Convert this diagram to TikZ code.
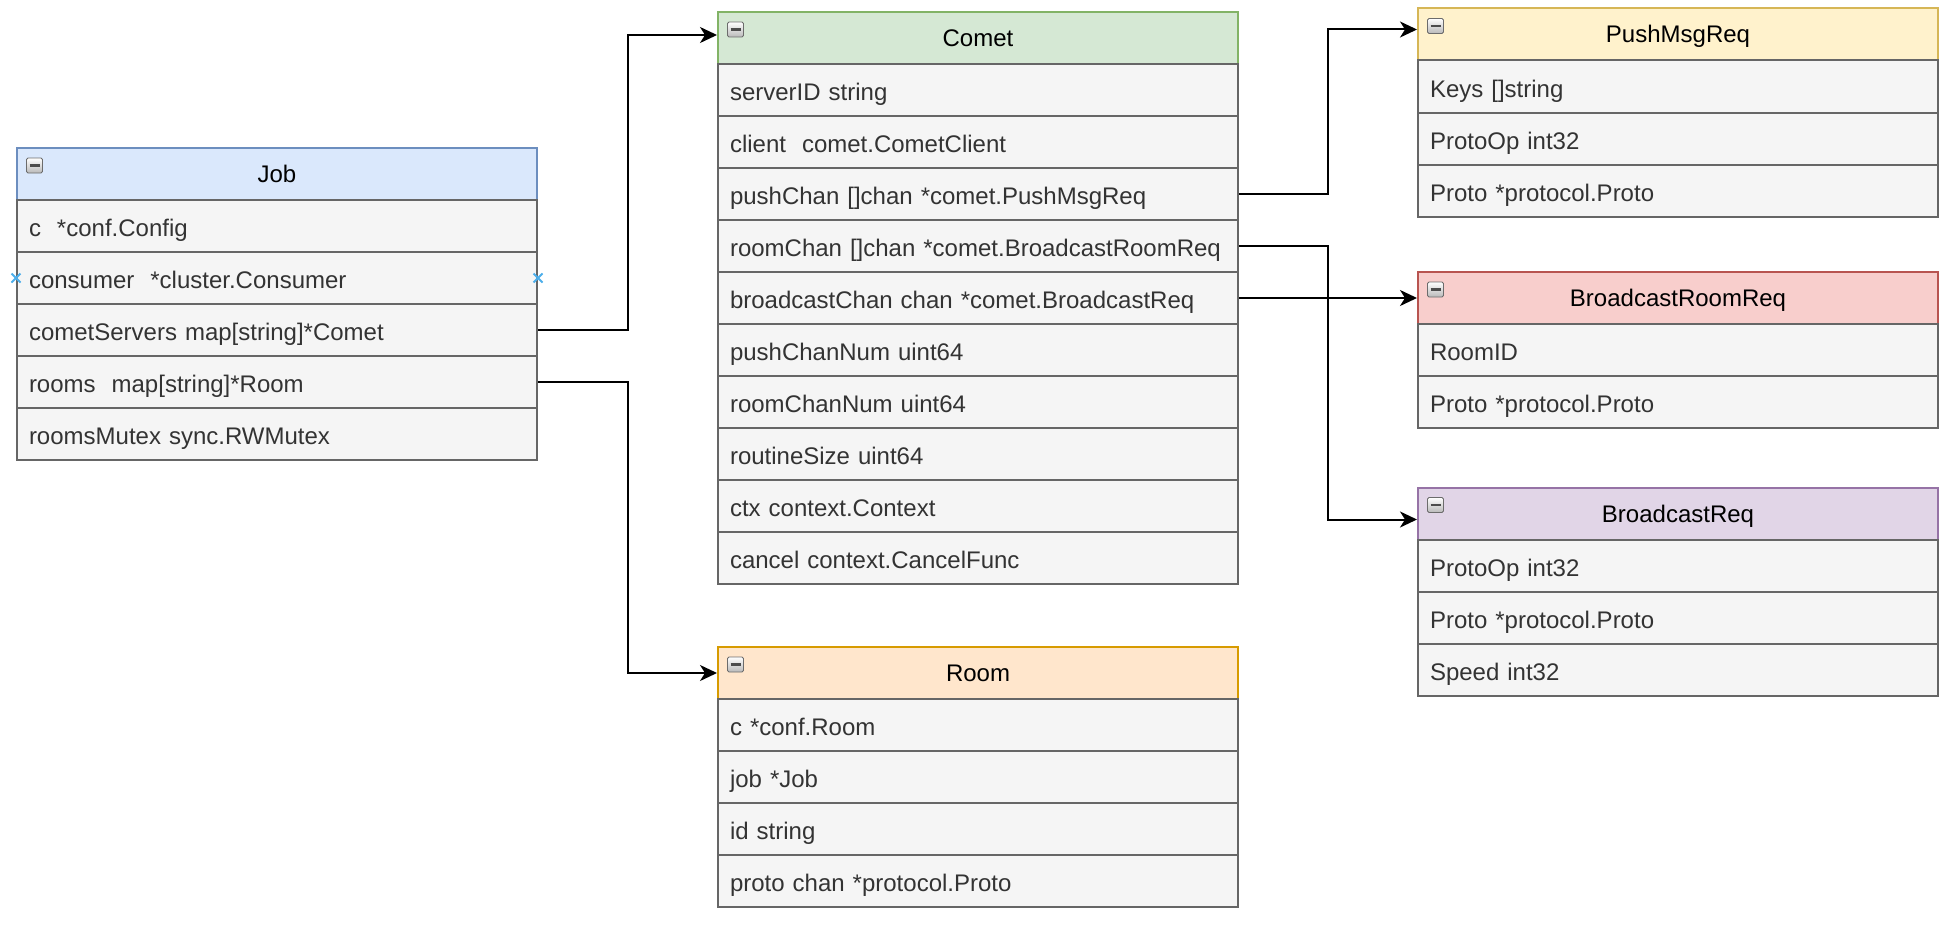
\documentclass[tikz,border=0pt]{standalone}
\usepackage{fontspec}
\setmainfont{Liberation Sans}
\usetikzlibrary{arrows.meta}

% palette
\definecolor{rowfill}{HTML}{F5F5F5}
\definecolor{rowline}{HTML}{666666}
\definecolor{rowtext}{HTML}{333333}
\definecolor{blueFill}{HTML}{DAE8FC}\definecolor{blueLine}{HTML}{6C8EBF}
\definecolor{greenFill}{HTML}{D5E8D4}\definecolor{greenLine}{HTML}{82B366}
\definecolor{yellowFill}{HTML}{FFF2CC}\definecolor{yellowLine}{HTML}{D6B656}
\definecolor{redFill}{HTML}{F8CECC}\definecolor{redLine}{HTML}{B85450}
\definecolor{purpleFill}{HTML}{E1D5E7}\definecolor{purpleLine}{HTML}{9673A6}
\definecolor{orangeFill}{HTML}{FFE6CC}\definecolor{orangeLine}{HTML}{D79B00}
\definecolor{hoverBlue}{HTML}{4DAEEA}

% field labels sit on a common baseline, slightly below the middle of their cell
\newcommand\celltext[1]{\raisebox{-2pt}{#1}}

\tikzset{
  x=1pt, y=-1pt,
  classhead/.style={draw, line width=2pt, minimum width=520pt, minimum height=52pt,
    anchor=north west, inner sep=0pt, text height=17pt, text depth=0pt,
    font=\fontsize{24}{29}\selectfont, text=black},
  classrow/.style={draw=rowline, fill=rowfill, line width=2pt, text width=496pt,
    inner xsep=12pt, inner ysep=0pt, minimum height=52pt, align=left,
    text height=17pt, text depth=0pt,
    anchor=north west, font=\fontsize{24}{29}\selectfont, text=rowtext},
  conn/.style={line width=2pt, -{Stealth[length=17pt,width=16pt,inset=5pt]}},
  foldbox/.style={draw=gray!85!black, line width=0.8pt, rounded corners=1.5pt,
    top color=white, bottom color=gray!55},
  hovermark/.style={draw=hoverBlue, line width=2pt},
}

% collapse button in the top left corner of a class header
\newcommand\foldicon[1]{%
  \shade[foldbox] ([shift={(10.5,11)}]#1.north west) rectangle ++(16,15);
  \draw[line width=2.8pt, color=black!70] ([shift={(13.5,18.5)}]#1.north west) -- ++(10,0);
}

% class box: name, x, y, title, header fill, header stroke, rows
\newcommand\umlclass[7]{%
  \node[classhead, fill=#5, draw=#6] (#1) at (#2,#3) {#4};
  \foreach \txt [count=\i] in {#7} {
    \node[classrow] (#1-\i) at (#2,#3+\i*52) {\celltext{\txt}};
  }
  \foldicon{#1}
}

% small hover cross
\newcommand\hovercross[1]{%
  \draw[hovermark] ([shift={(-4.5,-4.5)}]#1) -- ([shift={(4.5,4.5)}]#1);
  \draw[hovermark] ([shift={(-4.5,4.5)}]#1) -- ([shift={(4.5,-4.5)}]#1);
}

\begin{document}
\begin{tikzpicture}
\useasboundingbox (0,0) rectangle (1956,934);

\umlclass{job}{16}{147}{Job}{blueFill}{blueLine}{
  {c\ \ *conf.Config},
  {consumer\ \ *cluster.Consumer},
  {cometServers map[string]*Comet},
  {rooms\ \ map[string]*Room},
  {roomsMutex sync.RWMutex}}

\umlclass{comet}{717}{11}{Comet}{greenFill}{greenLine}{
  {serverID string},
  {client\ \ comet.CometClient},
  {pushChan []chan *comet.PushMsgReq},
  {roomChan []chan *comet.BroadcastRoomReq},
  {broadcastChan chan *comet.BroadcastReq},
  {pushChanNum uint64},
  {roomChanNum uint64},
  {routineSize uint64},
  {ctx context.Context},
  {cancel context.CancelFunc}}

\umlclass{room}{717}{646}{Room}{orangeFill}{orangeLine}{
  {c *conf.Room},
  {job *Job},
  {id string},
  {proto chan *protocol.Proto}}

\umlclass{push}{1417}{7.5}{PushMsgReq}{yellowFill}{yellowLine}{
  {Keys []string},
  {ProtoOp int32},
  {Proto *protocol.Proto}}

\umlclass{broom}{1417}{271}{BroadcastRoomReq}{redFill}{redLine}{
  {RoomID},
  {Proto *protocol.Proto}}

\umlclass{breq}{1417}{486.5}{BroadcastReq}{purpleFill}{purpleLine}{
  {ProtoOp int32},
  {Proto *protocol.Proto},
  {Speed int32}}

\hovercross{job-2.west}
\hovercross{job-2.east}

% references between the structs
\draw[conn] (job-3.east) -- ++(90,0) |- ([yshift=3pt]comet.west);
\draw[conn] (job-4.east) -- ++(90,0) |- (room.west);
\draw[conn] (comet-3.east) -- ++(89,0) |- ([yshift=5pt]push.west);
\draw[conn] (comet-4.east) -- ++(89,0) |- ([yshift=-6pt]breq.west);
\draw[conn] (comet-5.east) -- (comet-5.east -| broom.west);
\end{tikzpicture}
\end{document}
